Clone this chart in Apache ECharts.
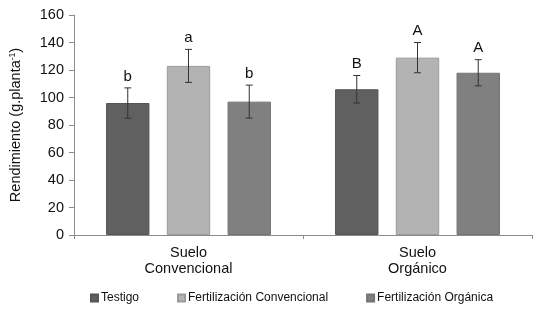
<!DOCTYPE html>
<html><head><meta charset="utf-8">
<script src="https://cdn.jsdelivr.net/npm/echarts@6/dist/echarts.min.js"></script>
<style>html,body{margin:0;padding:0;background:#fff}#c{width:547px;height:316px}</style>
</head><body><div id="c"></div>
<script>
var categories = ['Suelo\nConvencional', 'Suelo\nOrgánico'];
var seriesNames = ['Testigo', 'Fertilización Convencional', 'Fertilización Orgánica'];
var testigo = [96, 106];
var fertConv = [123, 129];
var fertOrg = [97, 118];
var errTestigo = [11, 10];
var errConv = [12, 11];
var errOrg = [12, 9.5];
var lettersTestigo = ['b', 'B'];
var lettersConv = ['a', 'A'];
var lettersOrg = ['b', 'A'];
var yTicks = [0, 20, 40, 60, 80, 100, 120, 140, 160];

var values = [testigo, fertConv, fertOrg];
var errs = [errTestigo, errConv, errOrg];
var letters = [lettersTestigo, lettersConv, lettersOrg];
var colors = ['#606060', '#b3b3b3', '#808080'];
var borders = ['#555555', '#9a9a9a', '#737373'];
var CAT_GAP = 0.28, BAR_GAP = 0.4, FONT = 'Liberation Sans, Arial, sans-serif';

var chart = echarts.init(document.getElementById('c'));
var series = [];
for (var s = 0; s < 3; s++) {
  series.push({
    name: seriesNames[s], type: 'bar', data: values[s],
    barCategoryGap: (CAT_GAP * 100) + '%', barGap: (BAR_GAP * 100) + '%',
    itemStyle: { color: colors[s], borderColor: borders[s], borderWidth: 1 },
    emphasis: { disabled: true }
  });
}
for (var s2 = 0; s2 < 3; s2++) {
  (function (si) {
    series.push({
      type: 'custom', name: seriesNames[si] + ' err', z: 10, silent: true,
      data: values[si].map(function (v, i) { return [i, v, errs[si][i]]; }),
      renderItem: function (params, api) {
        var ci = api.value(0), v = api.value(1), e = api.value(2);
        var lt = letters[si][params.dataIndex];
        var center = api.coord([ci, v]);
        var catW = api.size([1, 0])[0];
        var bw = catW * (1 - CAT_GAP) / (3 + 2 * BAR_GAP);
        var x = center[0] + (si - 1) * bw * (1 + BAR_GAP);
        var top = api.coord([ci, v + e])[1];
        var bot = api.coord([ci, v - e])[1];
        var st = { stroke: '#333', lineWidth: 1 };
        return { type: 'group', children: [
          { type: 'line', shape: { x1: x, y1: top, x2: x, y2: bot }, style: st },
          { type: 'line', shape: { x1: x - 3.5, y1: top, x2: x + 3.5, y2: top }, style: st },
          { type: 'line', shape: { x1: x - 3.5, y1: bot, x2: x + 3.5, y2: bot }, style: st },
          { type: 'text', x: x, y: top - 4, style: { text: lt, fill: '#111', font: '15px ' + FONT, align: 'center', verticalAlign: 'bottom' } }
        ]};
      }
    });
  })(s2);
}

chart.setOption({
  animation: false,
  grid: { left: 74, right: 15, top: 15, bottom: 81 },
  legend: {
    data: seriesNames, bottom: 7, left: 85, icon: 'rect', itemWidth: 7, itemHeight: 7, itemGap: 38,
    textStyle: { fontFamily: FONT, fontSize: 12, color: '#111', padding: [0, 0, 0, -2] }
  },
  xAxis: {
    type: 'category', data: categories,
    axisLine: { lineStyle: { color: '#8c8c8c' } },
    axisTick: { show: true, length: 4, lineStyle: { color: '#8c8c8c' } },
    axisLabel: { fontFamily: FONT, fontSize: 14.5, color: '#111', lineHeight: 16, margin: 10 }
  },
  yAxis: {
    type: 'value', min: yTicks[0], max: yTicks[yTicks.length - 1], interval: 20,
    name: '{a|Rendimiento (g.planta}{s|-1}{a|)}', nameLocation: 'middle', nameGap: 51, nameRotate: 90,
    nameTextStyle: { rich: {
      a: { fontFamily: FONT, fontSize: 14.5, color: '#111' },
      s: { fontFamily: FONT, fontSize: 8.5, color: '#111', verticalAlign: 'top', padding: [0, 0, 6, 0] }
    } },
    splitLine: { show: false },
    axisLine: { show: true, lineStyle: { color: '#8c8c8c' } },
    axisTick: { show: true, length: 5, lineStyle: { color: '#8c8c8c' } },
    axisLabel: { fontFamily: FONT, fontSize: 14.5, color: '#111', margin: 10 }
  },
  series: series
});
</script></body></html>
